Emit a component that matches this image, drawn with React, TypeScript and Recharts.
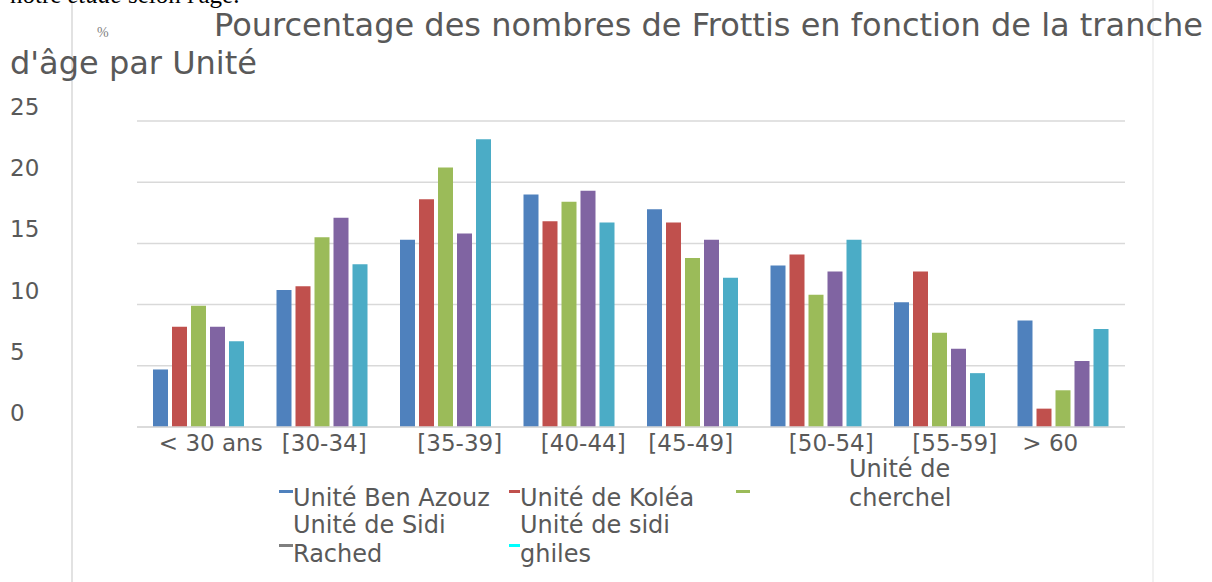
import React from 'react';
import { BarChart, Bar, XAxis, YAxis, CartesianGrid } from 'recharts';

// ---- data ----
const categories = ['< 30 ans', '[30-34]', '[35-39]', '[40-44]', '[45-49]', '[50-54]', '[55-59]', '> 60'];
const benAzouz = [4.7, 11.2, 15.3, 19.0, 17.8, 13.2, 10.2, 8.7];
const kolea = [8.2, 11.5, 18.6, 16.8, 16.7, 14.1, 12.7, 1.5];
const cherchel = [9.9, 15.5, 21.2, 18.4, 13.8, 10.8, 7.7, 3.0];
const sidiRached = [8.2, 17.1, 15.8, 19.3, 15.3, 12.7, 6.4, 5.4];
const sidiGhiles = [7.0, 13.3, 23.5, 16.7, 12.2, 15.3, 4.4, 8.0];
const yTicks = [0, 5, 10, 15, 20, 25];

const seriesNames = ['Unité Ben Azouz', 'Unité de Koléa', 'Unité de cherchel', 'Unité de Sidi Rached', 'Unité de sidi ghiles'];
const seriesKeys = ['benAzouz', 'kolea', 'cherchel', 'sidiRached', 'sidiGhiles'];
const barColors = ['#4F81BD', '#C0504D', '#9BBB59', '#8064A2', '#4BACC6'];
const legendMarkerColors = ['#4F81BD', '#C0504D', '#9BBB59', '#7F7F7F', '#00FFFF'];
const legendLines = [['Unité Ben Azouz'], ['Unité de Koléa'], ['Unité de', 'cherchel'], ['Unité de Sidi', 'Rached'], ['Unité de sidi', 'ghiles']];

const data = categories.map((c, i) => ({
  cat: c,
  benAzouz: benAzouz[i],
  kolea: kolea[i],
  cherchel: cherchel[i],
  sidiRached: sidiRached[i],
  sidiGhiles: sidiGhiles[i],
}));

// ---- styles ----
const FONT = '"DejaVu Sans", sans-serif';
const TEXT = '#595959';
const GRID = '#d9d9d9';
const tickDx = [12, 2, 14, 14, -2, 15, 15, -13];
const legendLayout = [
  { mx: 279, mw: 14, my: 490, tx: 293, ty: [506] },
  { mx: 509, mw: 11, my: 490, tx: 520, ty: [506] },
  { mx: 736, mw: 14, my: 490, tx: 849, ty: [477, 506] },
  { mx: 279, mw: 14, my: 544, tx: 293, ty: [533, 562] },
  { mx: 509, mw: 11, my: 544, tx: 520, ty: [533, 562] },
];

const XTick = (props: any) => {
  const { x, y, payload, index } = props;
  return (
    <text x={x + (tickDx[index] || 0)} y={y + 16} textAnchor="middle" fontSize={23} fontFamily={FONT} fill={TEXT}>
      {payload.value}
    </text>
  );
};

const YTick = (props: any) => {
  const { y, payload } = props;
  return (
    <text x={10} y={y - 6} textAnchor="start" fontSize={23} fontFamily={FONT} fill={TEXT}>
      {payload.value}
    </text>
  );
};

export default function App() {
  return (
    <div style={{ position: 'absolute', left: 0, top: 0, width: 1212, height: 582, background: '#fff', overflow: 'hidden' }}>
      <BarChart
        width={1212}
        height={582}
        data={data}
        margin={{ top: 121, right: 87, bottom: 101, left: 0 }}
        barGap={4}
      >
        <CartesianGrid vertical={false} stroke={GRID} strokeWidth={1.5} />
        <XAxis
          dataKey="cat"
          height={54}
          axisLine={{ stroke: GRID, strokeWidth: 1.5 }}
          tickLine={false}
          tick={<XTick />}
          interval={0}
        />
        <YAxis
          width={137}
          domain={[0, 25]}
          ticks={yTicks}
          axisLine={false}
          tickLine={false}
          tick={<YTick />}
        />
        {seriesKeys.map((k, i) => (
          <Bar key={k} dataKey={k} name={seriesNames[i]} fill={barColors[i]} barSize={15} isAnimationActive={false} />
        ))}
      </BarChart>
      <svg width={1212} height={582} style={{ position: 'absolute', left: 0, top: 0, pointerEvents: 'none' }}>
        <line x1={72} y1={0} x2={72} y2={582} stroke="#d9d9d9" strokeWidth={1.5} />
        <line x1={1153} y1={0} x2={1153} y2={582} stroke="#ececec" strokeWidth={1.5} />
        <text x={10} y={3} fontSize={25} fontFamily='"Liberation Serif", serif' fill="#000">
          notre <tspan fontStyle="italic">étude</tspan> selon l'âge.
        </text>
        <text x={97} y={37} fontSize={14} fontFamily='"Liberation Serif", serif' fill="#7f7f7f">%</text>
        <text x={214} y={36} fontSize={32} fontFamily={FONT} fill={TEXT}>
          Pourcentage des nombres de Frottis en fonction de la tranche
        </text>
        <text x={10} y={74} fontSize={32} fontFamily={FONT} fill={TEXT}>
          d'âge par Unité
        </text>
        {legendLayout.map((l, i) => (
          <g key={i}>
            <rect x={l.mx} y={l.my} width={l.mw} height={3} fill={legendMarkerColors[i]} />
            {legendLines[i].map((t, j) => (
              <text key={j} x={l.tx} y={l.ty[j]} fontSize={24} fontFamily={FONT} fill={TEXT}>{t}</text>
            ))}
          </g>
        ))}
      </svg>
    </div>
  );
}
